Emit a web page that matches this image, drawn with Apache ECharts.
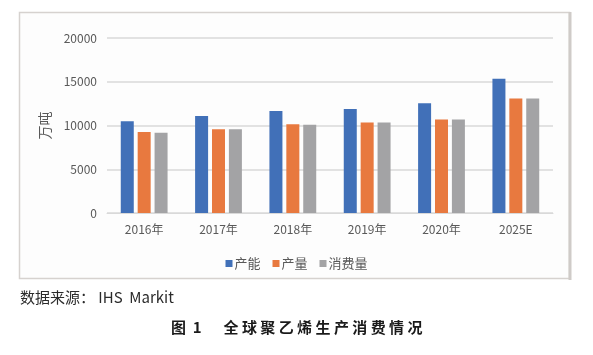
<!DOCTYPE html>
<html><head><meta charset="utf-8">
<script src="https://cdn.jsdelivr.net/npm/echarts@6/dist/echarts.min.js"></script>
<style>html,body{margin:0;padding:0;background:#fff;}#c{width:593px;height:355px;}</style>
</head><body><div id="c"></div>
<script>
var categories = ['2016年','2017年','2018年','2019年','2020年','2025E'];
var capacity = [10500, 11100, 11650, 11900, 12550, 15350];
var production = [9250, 9580, 10150, 10350, 10700, 13100];
var consumption = [9180, 9580, 10080, 10350, 10700, 13100];
var seriesNames = ['产能','产量','消费量'];
var yTicks = [0, 5000, 10000, 15000, 20000];

var chart = echarts.init(document.getElementById('c'));
var font = '"Noto Sans CJK SC", "Noto Sans", sans-serif';
chart.setOption({
  backgroundColor: '#ffffff',
  animation: false,
  textStyle: {fontFamily: font},
  graphic: [
    {type:'rect', shape:{x:19.5,y:12.5,width:550,height:266}, style:{fill:'#fdfdfd', stroke:'#d6d2cf', lineWidth:1.5}, z:-10},
    {type:'line', shape:{x1:570,y1:12,x2:570,y2:280}, style:{stroke:'#cfcbc8', lineWidth:3}, z:-9},
    {type:'text', left:20, top:290, style:{text:'数据来源： IHS  Markit', fill:'#2b2b2b', font:'15px ' + font}},
    {type:'text', left:171, top:320, style:{text:'图  1　  全 球 聚 乙 烯 生 产 消 费 情 况', fill:'#1a1a1a', font:'bold 15px ' + font}}
  ],
  legend: {
    data: seriesNames, left: 'center', top: 252,
    itemWidth: 7, itemHeight: 7, itemGap: 12, icon: 'rect',
    textStyle: {color:'#595959', fontSize:13, padding:[0,0,0,-3]}
  },
  grid: {left:107, right:40, top:38, bottom:142},
  xAxis: {
    type:'category', data:categories,
    axisLine:{lineStyle:{color:'#d9d9d9'}}, axisTick:{show:false},
    axisLabel:{color:'#595959', fontSize:12, margin:10}
  },
  yAxis: {
    type:'value', min:yTicks[0], max:yTicks[yTicks.length-1], interval:5000,
    name:'万吨', nameLocation:'middle', nameGap:55, nameRotate:90,
    nameTextStyle:{color:'#595959', fontSize:14},
    axisLine:{show:false}, axisTick:{show:false},
    axisLabel:{color:'#595959', fontSize:12, margin:10, formatter:function(v){return String(v);}},
    splitLine:{lineStyle:{color:'#d9d9d9', width:1.5}}
  },
  series: [
    {name:seriesNames[0], type:'bar', data:capacity, barWidth:13, barGap:'30%', itemStyle:{color:'#4170b8'}},
    {name:seriesNames[1], type:'bar', data:production, barWidth:13, barGap:'30%', itemStyle:{color:'#e8793f'}},
    {name:seriesNames[2], type:'bar', data:consumption, barWidth:13, barGap:'30%', itemStyle:{color:'#a3a3a5'}}
  ]
});
</script></body></html>
